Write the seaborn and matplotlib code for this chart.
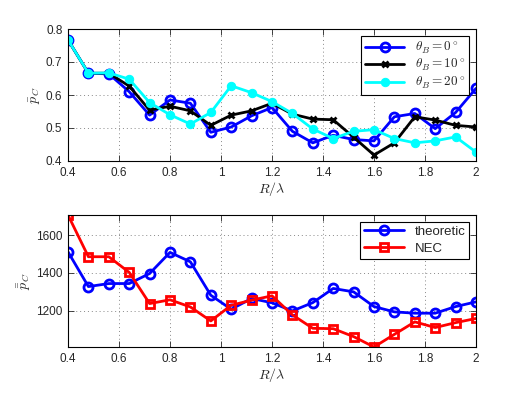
import matplotlib
matplotlib.use('Agg')
import matplotlib.pyplot as plt
import seaborn as sns
import pandas as pd

# Data
r_lambda = [0.4, 0.48, 0.56, 0.64, 0.72, 0.8, 0.88, 0.96, 1.04, 1.12, 1.2,
            1.28, 1.36, 1.44, 1.52, 1.6, 1.68, 1.76, 1.84, 1.92, 2.0]

pc_theta0 = [0.767, 0.666, 0.664, 0.610, 0.539, 0.585, 0.575, 0.487, 0.503, 0.537, 0.562,
             0.490, 0.455, 0.478, 0.465, 0.461, 0.534, 0.544, 0.498, 0.547, 0.620]
pc_theta10 = [0.767, 0.666, 0.666, 0.627, 0.554, 0.566, 0.552, 0.508, 0.539, 0.552, 0.575,
              0.542, 0.527, 0.525, 0.472, 0.418, 0.455, 0.534, 0.524, 0.508, 0.503]
pc_theta20 = [0.767, 0.666, 0.667, 0.648, 0.577, 0.540, 0.512, 0.547, 0.628, 0.607, 0.580,
              0.544, 0.497, 0.468, 0.490, 0.495, 0.468, 0.455, 0.461, 0.473, 0.427]

pcc_theoretic = [1511, 1327, 1343, 1343, 1396, 1508, 1458, 1281, 1207, 1264, 1241,
                 1198, 1242, 1317, 1299, 1221, 1193, 1186, 1186, 1221, 1246]
pcc_nec = [1706, 1485, 1485, 1402, 1237, 1257, 1219, 1145, 1228, 1255, 1278,
           1177, 1106, 1104, 1062, 1007, 1074, 1140, 1110, 1136, 1158]

top_labels = [r'$\theta_B = 0^\circ$', r'$\theta_B = 10^\circ$', r'$\theta_B = 20^\circ$']
bottom_labels = ['theoretic', 'NEC']

sns.set_style('white')
plt.rcParams['font.family'] = ['Liberation Sans', 'DejaVu Sans']
plt.rcParams['mathtext.fontset'] = 'cm'
plt.rcParams['font.size'] = 8

fig = plt.figure(figsize=(5.25, 3.95), dpi=100)
ax1 = fig.add_axes([68 / 525, 1 - 161 / 395, 408 / 525, 132 / 395])
ax2 = fig.add_axes([68 / 525, 1 - 347 / 395, 408 / 525, 132 / 395])

df_top = pd.DataFrame({'x': r_lambda, 't0': pc_theta0, 't10': pc_theta10, 't20': pc_theta20})
df_bot = pd.DataFrame({'x': r_lambda, 'th': pcc_theoretic, 'nec': pcc_nec})

# Top panel
sns.lineplot(data=df_top, x='x', y='t0', ax=ax1, color='#0000ff', lw=2, marker='o',
             markersize=6.5, markerfacecolor='none', markeredgecolor='#0000ff',
             markeredgewidth=2, label=top_labels[0])
sns.lineplot(data=df_top, x='x', y='t10', ax=ax1, color='black', lw=2, marker='x',
             markersize=5, markeredgecolor='black', markeredgewidth=2,
             label=top_labels[1])
sns.lineplot(data=df_top, x='x', y='t20', ax=ax1, color='#00ffff', lw=2, marker='o',
             markersize=6, markeredgecolor='#00ffff', label=top_labels[2])

# Bottom panel
sns.lineplot(data=df_bot, x='x', y='th', ax=ax2, color='#0000ff', lw=2, marker='o',
             markersize=6.5, markerfacecolor='none', markeredgecolor='#0000ff',
             markeredgewidth=2, label=bottom_labels[0])
sns.lineplot(data=df_bot, x='x', y='nec', ax=ax2, color='#ff0000', lw=2, marker='s',
             markersize=5.5, markerfacecolor='none', markeredgecolor='#ff0000',
             markeredgewidth=2, label=bottom_labels[1])

for ax, spacing in ((ax1, 0.1), (ax2, 0.35)):
    ax.set_xlim(0.4, 2)
    ax.set_xticks([0.4, 0.6, 0.8, 1, 1.2, 1.4, 1.6, 1.8, 2])
    ax.set_xticklabels(['0.4', '0.6', '0.8', '1', '1.2', '1.4', '1.6', '1.8', '2'])
    ax.grid(True, linestyle=(0, (1, 3)), color='#888888', lw=0.7)
    ax.tick_params(direction='in', length=4, width=0.6, labelsize=8.5, pad=4,
                   top=True, right=True, bottom=True, left=True)
    for s in ax.spines.values():
        s.set_color('black')
        s.set_linewidth(0.8)
    ax.set_xlabel(r'$R/\lambda$', fontsize=10, labelpad=1)
    leg = ax.legend(loc='upper right', fancybox=False, edgecolor='black',
                    framealpha=1, fontsize=9.5, handlelength=3, borderpad=0.3,
                    labelspacing=spacing, borderaxespad=0.5)
    leg.get_frame().set_linewidth(0.8)

ax1.set_ylim(0.4, 0.8)
ax1.set_yticks([0.4, 0.5, 0.6, 0.7, 0.8])
ax1.set_ylabel(r'$\bar{p}_C$', fontsize=10, labelpad=2)

ax2.set_ylim(min(pcc_nec), max(pcc_nec))
ax2.set_yticks([1200, 1400, 1600])
ax2.set_ylabel(r'$\bar{\bar{p}}_C$', fontsize=10, labelpad=2)

fig.savefig('out.png', dpi=100)
